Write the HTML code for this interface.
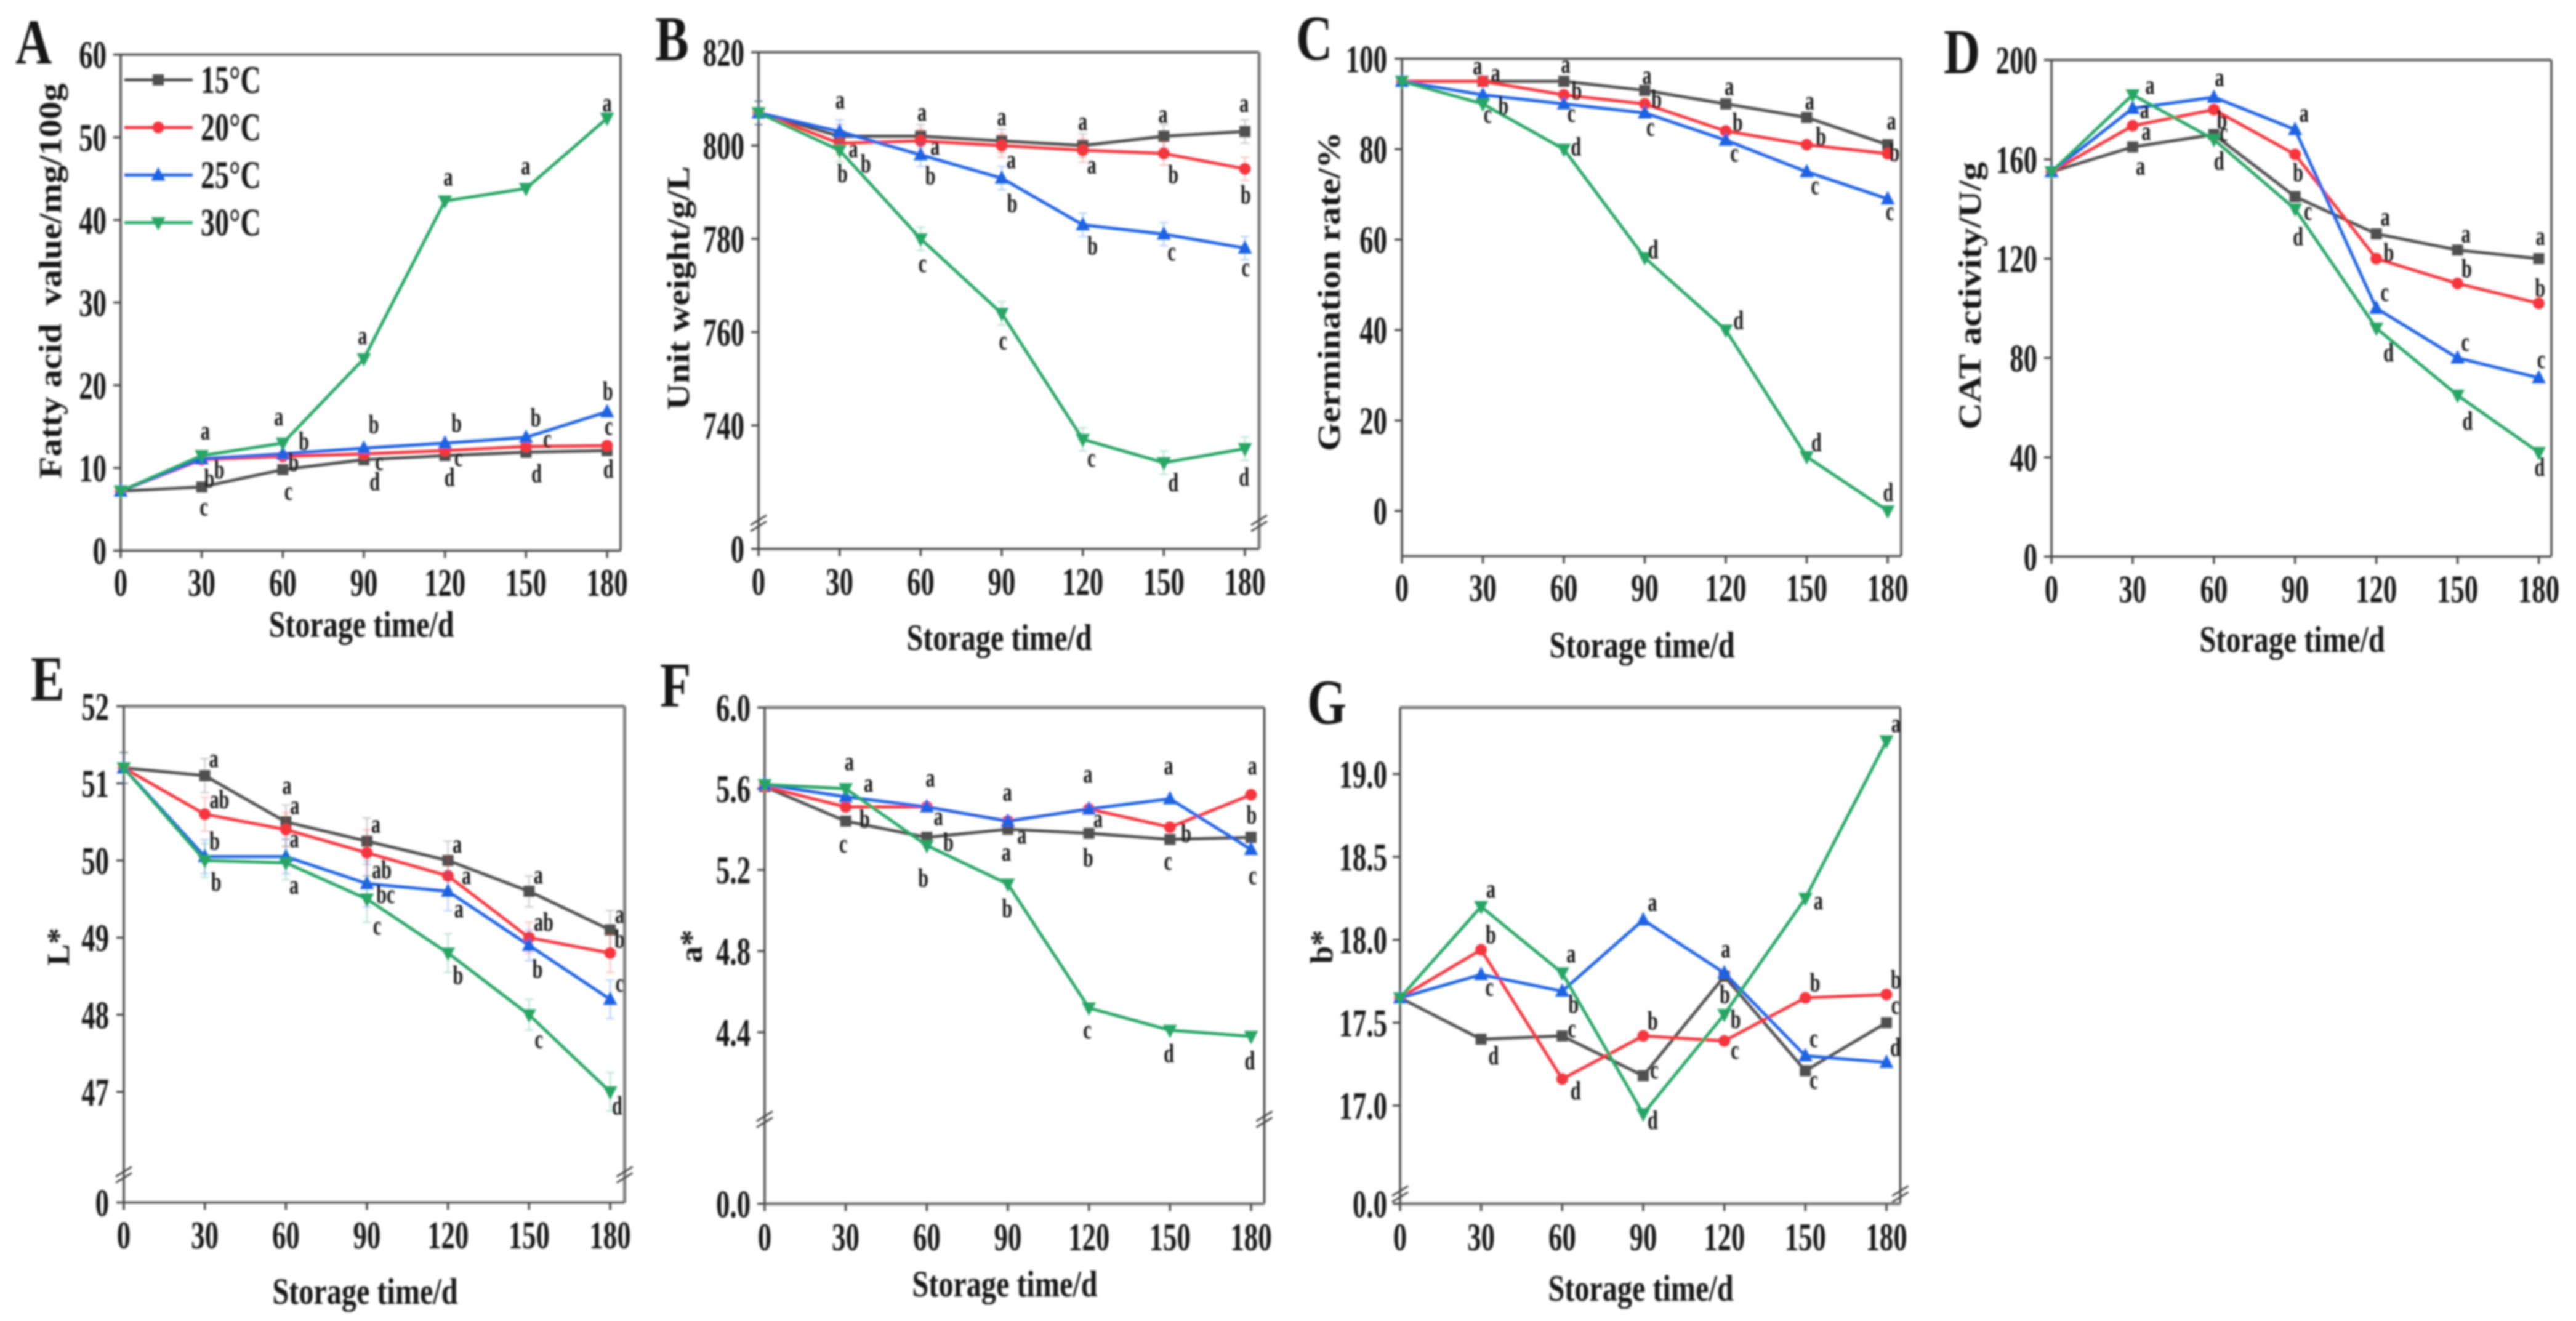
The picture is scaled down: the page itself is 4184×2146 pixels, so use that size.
<!DOCTYPE html>
<html lang="en">
<head>
<meta charset="utf-8">
<title>Storage quality charts</title>
<style>
html,body{margin:0;padding:0;background:#fff;}
svg{display:block;}
text{font-family:"Liberation Serif",serif;font-weight:bold;fill:#161616;}
</style>
</head>
<body>
<svg id="figure" xmlns="http://www.w3.org/2000/svg" width="4184" height="2146" viewBox="0 0 4184 2146">
<defs><filter id="soft" filterUnits="userSpaceOnUse" x="0" y="0" width="4184" height="2146"><feGaussianBlur stdDeviation="1.5"/></filter></defs>
<rect width="4184" height="2146" fill="#fff"/>
<g id="root" filter="url(#soft)"></g>
</svg>
<script>
const days = [0, 30, 60, 90, 120, 150, 180];
const seriesNames = ['15°C', '20°C', '25°C', '30°C'];

const fatty15 = [7.2, 7.7, 9.8, 11, 11.5, 11.9, 12.1];
const fatty20 = [7.2, 11, 11.4, 11.7, 12.1, 12.6, 12.7];
const fatty25 = [7.2, 11.1, 11.7, 12.4, 13, 13.7, 16.8];
const fatty30 = [7.2, 11.5, 13, 23.2, 42.3, 43.8, 52.3];
const fattyTicks = ['0', '10', '20', '30', '40', '50', '60'];
const fattyLetters = [[31.3,14.2,'a'],[58.5,15.9,'a'],[89.5,25.7,'a'],[121.2,44.9,'a'],[149.9,46.25,'a'],[180,53.85,'a'],[67.8,13.2,'b'],[93.7,15.25,'b'],[124.3,15.4,'b'],[153.6,16.1,'b'],[180.3,19.3,'b'],[36.5,9.8,'b'],[157.9,13.2,'c'],[180.6,14.75,'c'],[32.8,8.7,'b'],[64,10.7,'b'],[95.7,10.5,'c'],[125,11,'c'],[94,8.35,'d'],[121.7,8.85,'d'],[153.9,9.3,'d'],[180.5,9.85,'d'],[30.8,5,'c'],[62.1,6.9,'c']];

const unit15 = [807, 802, 802, 801, 800, 802, 803];
const unit20 = [807, 800.5, 801, 800, 799, 798.3, 795];
const unit25 = [807, 803, 798, 793, 783, 781, 778];
const unit30 = [807, 799, 780, 764, 737, 732, 735];
const unitTicks = ['0', '740', '760', '780', '800', '820'];
const unitLetters = [[30.2,809.2,'a'],[60.5,806.6,'a'],[90,805.6,'a'],[120,804.6,'a'],[149.7,806.2,'a'],[179.7,808.5,'a'],[35.1,798.8,'a'],[65.3,799.3,'a'],[93.5,796.4,'a'],[123.3,795.3,'a'],[39.7,796.1,'b'],[31.1,794,'b'],[63.6,793.5,'b'],[93.9,787.6,'b'],[123.6,778.5,'b'],[153.5,793.8,'b'],[180.3,789.4,'b'],[60.7,774.2,'c'],[90.5,757.6,'c'],[123.2,732.5,'c'],[152.9,776.7,'c'],[180.3,773.3,'c'],[153.5,727.7,'d'],[179.7,728.9,'d']];
const unitError = [2.5, 2.5, 2.5, 2.5, 2.5, 2.5, 2.5];

const germ15 = [95, 95, 95, 93, 90, 87, 81];
const germ20 = [95, 95, 92, 90, 84, 81, 79];
const germ25 = [95, 92, 90, 88, 82, 75, 69];
const germ30 = [95, 90, 80, 56, 40, 12, 0];
const germTicks = ['0', '20', '40', '60', '80', '100'];
const germLetters = [[28,97.9,'a'],[34.7,96.3,'a'],[60.7,98.2,'a'],[90.8,95.8,'a'],[121.3,93.3,'a'],[151.1,90.1,'a'],[181.4,85.7,'a'],[37.6,89.6,'b'],[64.8,92.9,'b'],[94.4,91,'b'],[124.4,85.9,'b'],[155.3,82.8,'b'],[182.5,79.3,'b'],[31.8,87.2,'c'],[62.8,87.4,'c'],[92.1,84.3,'c'],[123.2,78.6,'c'],[153.1,71.4,'c'],[180.8,65.7,'c'],[64.5,80.5,'d'],[93.1,57.8,'d'],[124.7,42.1,'d'],[153.6,15.1,'d'],[180.2,4.1,'d']];

const cat15 = [155, 165, 170, 145, 130, 123.5, 120];
const cat20 = [155, 173.5, 180, 162, 120, 110, 102];
const cat25 = [155, 180.5, 185, 172, 100, 80, 72];
const cat30 = [155, 186, 168, 140, 92, 65, 42];
const catTicks = ['0', '40', '80', '120', '160', '200'];
const catLetters = [[36.4,188.9,'a'],[62.1,192,'a'],[93.3,177.6,'a'],[123.3,135.8,'a'],[153.1,129,'a'],[180.6,128,'a'],[34.4,179,'a'],[35,170.3,'a'],[32.9,156.3,'a'],[63,175.8,'b'],[91.1,154.6,'b'],[124.6,122.4,'b'],[153.4,116,'b'],[180.5,108.2,'b'],[63.6,169.9,'c'],[94.8,138.1,'c'],[123.1,105.4,'c'],[152.9,85.4,'c'],[180.9,78.4,'c'],[61.9,159.3,'d'],[91.1,128.9,'d'],[124.5,82.1,'d'],[153.7,54.6,'d'],[180.3,36,'d']];

const light15 = [51.2, 51.1, 50.5, 50.25, 50, 49.6, 49.1];
const light20 = [51.2, 50.6, 50.4, 50.1, 49.8, 49, 48.8];
const light25 = [51.2, 50.05, 50.05, 49.7, 49.6, 48.9, 48.2];
const light30 = [51.2, 50, 49.97, 49.5, 48.8, 48, 47];
const lightTicks = ['0', '47', '48', '49', '50', '51', '52'];
const lightLetters = [[33.3,51.29,'a'],[35.4,50.79,'ab'],[33.6,50.25,'b'],[34.2,49.72,'b'],[60.4,50.94,'a'],[63.3,50.68,'a'],[63.1,50.25,'a'],[63,49.65,'a'],[93.3,50.44,'a'],[95.5,49.88,'ab'],[96.9,49.56,'bc'],[93.8,49.12,'c'],[123.4,50.18,'a'],[126.8,49.77,'a'],[124,49.34,'a'],[123.7,48.51,'b'],[153.4,49.78,'a'],[155.4,49.2,'ab'],[153.1,48.59,'b'],[153.6,47.65,'c'],[183.5,49.27,'a'],[183.5,48.98,'b'],[183.5,48.38,'c'],[182.6,46.82,'d']];
const lightError = [0.2, 0.22, 0.22, 0.3, 0.25, 0.2, 0.25];

const red15 = [5.61, 5.44, 5.36, 5.40, 5.38, 5.35, 5.36];
const red20 = [5.61, 5.51, 5.51, 5.44, 5.5, 5.41, 5.57];
const red25 = [5.62, 5.56, 5.51, 5.44, 5.50, 5.55, 5.30];
const red30 = [5.62, 5.6, 5.32, 5.13, 4.52, 4.41, 4.38];
const redTicks = ['0.0', '4.4', '4.8', '5.2', '5.6', '6.0'];
const redLetters = [[31.3,5.72,'a'],[38.4,5.615,'a'],[29.1,5.315,'c'],[37,5.45,'b'],[61.3,5.64,'a'],[64.3,5.45,'a'],[68,5.335,'b'],[58.7,5.16,'b'],[89.8,5.57,'a'],[95.2,5.36,'a'],[89.4,5.275,'a'],[89.7,5.01,'b'],[119.6,5.66,'a'],[123.4,5.44,'a'],[119.7,5.26,'b'],[119.4,4.4,'c'],[149.5,5.7,'a'],[156,5.38,'b'],[149.3,5.23,'c'],[149.6,4.295,'d'],[180.5,5.7,'a'],[180.2,5.47,'b'],[180.6,5.16,'c'],[179.5,4.26,'d']];

const yellow15 = [17.65, 17.4, 17.42, 17.18, 17.78, 17.21, 17.5];
const yellow20 = [17.65, 17.94, 17.16, 17.42, 17.39, 17.65, 17.67];
const yellow25 = [17.65, 17.79, 17.69, 18.12, 17.8, 17.3, 17.26];
const yellow30 = [17.65, 18.2, 17.8, 16.95, 17.55, 18.25, 19.2];
const yellowTicks = ['0.0', '17.0', '17.5', '18.0', '18.5', '19.0'];
const yellowLetters = [[33.6,18.29,'a'],[33.6,18.03,'b'],[33.1,17.7,'c'],[34.6,17.3,'d'],[63.3,17.9,'a'],[64.2,17.61,'b'],[63.6,17.45,'c'],[65,17.09,'d'],[93.4,18.21,'a'],[93.5,17.51,'b'],[94.1,17.2,'c'],[93.5,16.91,'d'],[120.5,17.93,'a'],[120.2,17.67,'b'],[124.2,17.52,'b'],[123.9,17.32,'c'],[154.8,18.22,'a'],[153.6,17.74,'b'],[153.1,17.39,'c'],[153.1,17.14,'c'],[183.5,19.29,'a'],[183.5,17.76,'b'],[183.3,17.59,'c'],[183.3,17.35,'d']];

const COLORS = ['#4f4f4f', '#f4363e', '#1c62e2', '#25a565'];
const NS = 'http://www.w3.org/2000/svg';
const root = document.getElementById('root');

function mk(parent, tag, attrs) {
  const el = document.createElementNS(NS, tag);
  for (const k in attrs) el.setAttribute(k, attrs[k]);
  parent.appendChild(el);
  return el;
}
function txt(parent, str, x, y, size, sx, anchor) {
  const el = mk(parent, 'text', {
    transform: 'translate(' + x + ' ' + y + ') scale(' + sx + ' 1)',
    'font-size': size,
    'text-anchor': anchor
  });
  el.textContent = str;
  return el;
}
function marker(parent, kind, x, y, color) {
  let el;
  if (kind === 0) el = mk(parent, 'rect', {x: x - 9, y: y - 9, width: 18, height: 18, fill: color});
  else if (kind === 1) el = mk(parent, 'circle', {cx: x, cy: y, r: 9.5, fill: color});
  else if (kind === 2) el = mk(parent, 'polygon', {points: (x - 11.5) + ',' + (y + 9) + ' ' + (x + 11.5) + ',' + (y + 9) + ' ' + x + ',' + (y - 13), fill: color});
  else el = mk(parent, 'polygon', {points: (x - 11.5) + ',' + (y - 9) + ' ' + (x + 11.5) + ',' + (y - 9) + ' ' + x + ',' + (y + 13), fill: color});
  return el;
}

function drawPanel(p) {
  const g = mk(root, 'g', {});
  
  

  const X = d => p.x0 + (d / 180) * (p.x180 - p.x0);
  const Y = v => p.baseY - (v - p.baseV) * p.k;
  const tickY = s => (p.broken && parseFloat(s) === 0) ? p.bottom : Y(parseFloat(s));

  const heavy = p.heavy || [];
  const edges = [
    ['top', p.x0, p.top, p.right, p.top],
    ['right', p.right, p.top, p.right, p.bottom],
    ['bottom', p.x0, p.bottom, p.right, p.bottom],
    ['left', p.x0, p.top, p.x0, p.bottom]
  ];
  edges.forEach(e => {
    const isHeavy = heavy.indexOf(e[0]) >= 0;
    const ln = mk(g, 'line', {x1: e[1], y1: e[2], x2: e[3], y2: e[4], stroke: isHeavy ? '#7d7d7d' : '#484848', 'stroke-width': isHeavy ? 5 : 3.5});
    
    
  });

  days.forEach(d => {
    const tk = mk(g, 'line', {x1: X(d), y1: p.bottom, x2: X(d), y2: p.bottom + 12, stroke: '#484848', 'stroke-width': 3.5});
    
    
    const lb = txt(g, String(d), X(d), p.xTickY, 64, 0.70, 'middle');
    
    
  });

  p.ticks.forEach(s => {
    const yy = tickY(s);
    const tk = mk(g, 'line', {x1: p.x0 - 12, y1: yy, x2: p.x0, y2: yy, stroke: '#484848', 'stroke-width': 3.5});
    
    
    const lb = txt(g, s, p.yTickX, yy + 22, 64, 0.70, 'end');
    
    
  });

  if (p.broken) {
    [p.x0, p.right].forEach(ax => {
      [-5, 5].forEach(off => {
        const br = mk(g, 'line', {x1: ax - 13, y1: p.breakY + off + 8, x2: ax + 13, y2: p.breakY + off - 8, stroke: '#444', 'stroke-width': 3});
        
        
      });
    });
  }

  p.series.forEach((vals, i) => {
    const sg = mk(g, 'g', {});
    
    
    if (p.error) {
      vals.forEach((v, j) => {
        const h = p.error[j] * p.k;
        const eb = mk(sg, 'path', {
          d: 'M' + (X(days[j]) - 7) + ' ' + (Y(v) - h) + 'h14M' + X(days[j]) + ' ' + (Y(v) - h) + 'v' + (2 * h) + 'M' + (X(days[j]) - 7) + ' ' + (Y(v) + h) + 'h14',
          stroke: COLORS[i], 'stroke-width': 2.5, 'stroke-opacity': 0.28, fill: 'none'
        });
        
        
      });
    }
    const line = mk(sg, 'polyline', {
      points: vals.map((v, j) => X(days[j]) + ',' + Y(v)).join(' '),
      fill: 'none', stroke: COLORS[i], 'stroke-width': 5, 'stroke-linejoin': 'round'
    });
    
    
    vals.forEach((v, j) => {
      const m = marker(sg, i, X(days[j]), Y(v), COLORS[i]);
      
      
    });
  });

  p.letters.forEach(l => {
    const drop = /[bd]/.test(l[2]) ? 14 : 10;
    const t = txt(g, l[2], X(l[0]), Y(l[1]) + drop, 43, 0.70, 'middle');
    
    
  });

  const xt = mk(g, 'text', {x: p.xTitleX, y: p.xTitleY, 'font-size': 60, 'text-anchor': 'middle', textLength: 301, lengthAdjust: 'spacingAndGlyphs'});
  xt.textContent = 'Storage time/d';
  
  

  const yt = mk(g, 'text', {transform: 'translate(' + p.yTitleX + ' ' + p.yTitleY + ') rotate(-90)', 'font-size': 52, textLength: p.yTitleLen, lengthAdjust: 'spacingAndGlyphs'});
  yt.textContent = p.yTitle;
  
  

  const pl = txt(g, p.letter, p.labelX, p.labelY, 104, 0.79, 'start');
  
  
}

drawPanel({letter:'A', x0:196, x180:986, right:1008, top:88.6, bottom:894.5, baseV:0, baseY:894.5, k:13.43,
  series:[fatty15,fatty20,fatty25,fatty30], ticks:fattyTicks, letters:fattyLetters,
  xTickY:968, yTickX:173, xTitleX:587, xTitleY:1034.5, yTitleX:99, yTitleY:777.5, yTitleLen:642,
  yTitle:'Fatty acid\u00a0 value/mg/100g', labelX:25, labelY:103});

drawPanel({letter:'B', x0:1232, x180:2022, right:2045, top:84.9, bottom:891.6, baseV:820, baseY:84.9, k:7.576,
  broken:true, breakY:850, heavy:['right'], error:unitError,
  series:[unit15,unit20,unit25,unit30], ticks:unitTicks, letters:unitLetters,
  xTickY:966.7, yTickX:1209, xTitleX:1623, xTitleY:1056, yTitleX:1119, yTitleY:666, yTitleLen:396,
  yTitle:'Unit weight/g/L', labelX:1064, labelY:98});

drawPanel({letter:'C', x0:2277, x180:3066, right:3088, top:95.4, bottom:903.5, baseV:0, baseY:830, k:7.346,
  series:[germ15,germ20,germ25,germ30], ticks:germTicks, letters:germLetters,
  xTickY:976.5, yTickX:2253, xTitleX:2667, xTitleY:1068, yTitleX:2176, yTitleY:733, yTitleLen:519,
  yTitle:'Germination rate/%', labelX:2105, labelY:96.8});

drawPanel({letter:'D', x0:3332, x180:4123.5, right:4144, top:97.5, bottom:904.3, baseV:0, baseY:904.3, k:4.034,
  series:[cat15,cat20,cat25,cat30], ticks:catTicks, letters:catLetters,
  xTickY:978.6, yTickX:3309, xTitleX:3723, xTitleY:1059, yTitleX:3217, yTitleY:698, yTitleLen:435,
  yTitle:'CAT activity/U/g', labelX:3157, labelY:119});

drawPanel({letter:'E', x0:201, x180:991, right:1014.5, top:1147.3, bottom:1953.5, baseV:52, baseY:1147.3, k:125.3,
  broken:true, breakY:1908.5, heavy:['top','right'], error:lightError,
  series:[light15,light20,light25,light30], ticks:lightTicks, letters:lightLetters,
  xTickY:2028, yTickX:177, xTitleX:593, xTitleY:2118, yTitleX:112, yTitleY:1569, yTitleLen:62,
  yTitle:'L*', labelX:50, labelY:1137.6});

drawPanel({letter:'F', x0:1242, x180:2032, right:2053.5, top:1149.3, bottom:1955.5, baseV:6, baseY:1149.3, k:329.8,
  broken:true, breakY:1818.4, heavy:['top','bottom'],
  series:[red15,red20,red25,red30], ticks:redTicks, letters:redLetters,
  xTickY:2031, yTickX:1219, xTitleX:1632, xTitleY:2105.8, yTitleX:1140, yTitleY:1564, yTitleLen:54,
  yTitle:'a*', labelX:1072, labelY:1148});

drawPanel({letter:'G', x0:2274, x180:3064, right:3086.5, top:1149.3, bottom:1955.5, baseV:19, baseY:1257.4, k:269.3,
  broken:true, breakY:1939.6, heavy:['top','bottom'],
  series:[yellow15,yellow20,yellow25,yellow30], ticks:yellowTicks, letters:yellowLetters,
  xTickY:2031, yTickX:2253, xTitleX:2665, xTitleY:2112.8, yTitleX:2164, yTitleY:1565.6, yTitleLen:55,
  yTitle:'b*', labelX:2123, labelY:1175.7});

const legend = mk(root, 'g', {});


seriesNames.forEach((name, i) => {
  const rowY = 129.8 + i * 77.3;
  const ln = mk(legend, 'line', {x1: 202, y1: rowY, x2: 313, y2: rowY, stroke: COLORS[i], 'stroke-width': 5});
  
  
  const mkr = marker(legend, i, 257, rowY, COLORS[i]);
  
  
  const t = txt(legend, name, 326, rowY + 21, 64, 0.72, 'start');
  
  
});
</script>
</body>
</html>
